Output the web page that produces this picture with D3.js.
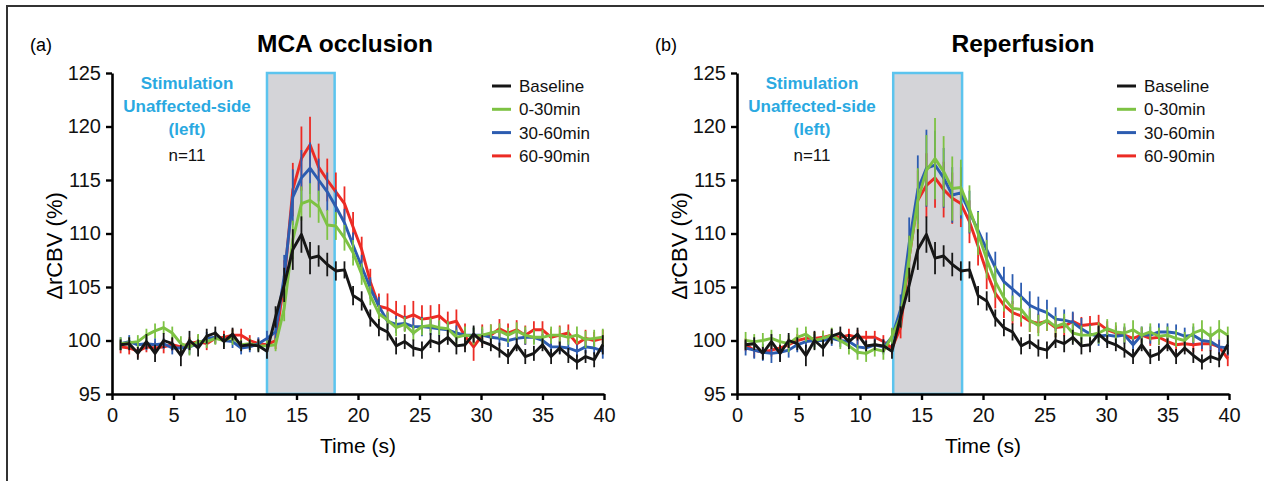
<!DOCTYPE html>
<html>
<head>
<meta charset="utf-8">
<script src="https://cdn.jsdelivr.net/npm/d3@7"></script>
<style>
body { margin: 0; background: #fff; }
svg text { font-family: "Liberation Sans", Arial, sans-serif; }
</style>
</head>
<body>
<svg id="chart" width="1264" height="481"></svg>
<script>
// sample times (s)
var times = [0.7,1.4,2.1,2.8,3.5,4.2,4.9,5.6,6.3,7.0,7.7,8.4,9.1,9.8,10.5,11.2,11.9,12.6,13.3,14.0,
  14.7,15.4,16.1,16.8,17.5,18.2,18.9,19.6,20.3,21.0,21.7,22.4,23.1,23.8,24.5,25.2,25.9,26.6,27.3,28.0,
  28.7,29.4,30.1,30.8,31.5,32.2,32.9,33.6,34.3,35.0,35.7,36.4,37.1,37.8,38.5,39.2,39.9];

// Baseline (same curve in both panels)
var baseline = [99.6,99.7,98.8,99.9,98.8,100.0,99.7,98.6,100.0,99.3,100.4,100.7,99.9,100.6,99.5,99.6,99.5,99.0,
  102.2,105.2,108.5,109.9,107.7,107.9,107.1,106.5,106.6,104.2,
  103.7,102.1,101.2,100.8,99.5,99.9,99.3,99.1,100.0,99.7,100.3,99.5,99.6,100.6,99.9,99.6,99.1,98.5,99.6,98.5,
  98.8,99.6,98.5,99.3,98.6,98.0,98.5,98.2,99.6];
var baselineErr = [0.5,0.6,0.6,0.7,0.8,0.7,0.6,1.0,0.9,0.8,0.7,0.6,0.7,0.6,0.5,0.5,0.6,0.7,
  1.0,1.6,1.9,1.7,1.5,1.0,1.1,0.9,0.8,0.9,0.9,0.8,
  0.8,0.8,0.8,0.7,0.8,0.8,0.7,0.8,0.7,0.8,0.7,0.8,0.6,0.6,0.7,0.7,0.6,0.7,0.7,0.6,0.7,0.6,0.7,0.7,0.6,0.7,0.9];

// (a) MCA occlusion
var occ0to30 = [99.7,99.8,99.9,100.5,100.9,101.2,100.7,99.7,99.4,99.9,99.9,100.2,100.0,100.3,99.6,99.7,99.5,99.5,99.6,
  103.0,109.4,112.8,113.1,112.5,110.8,110.7,109.6,108.2,106.2,104.2,102.5,
  101.9,101.2,101.5,100.7,101.3,101.4,101.2,101.1,100.3,100.5,100.4,100.5,100.7,100.9,100.5,100.9,100.5,100.3,
  100.3,100.5,100.5,100.3,100.5,100.1,100.2,100.3];
var occ0to30Err = [0.6,0.5,0.6,0.6,0.7,0.6,0.6,0.7,0.8,0.7,0.6,0.6,0.6,0.7,0.5,0.5,0.5,0.5,
  0.6,1.2,1.8,1.6,1.6,1.5,1.4,1.3,1.2,1.2,1.0,0.9,
  0.8,0.8,0.8,0.7,0.7,0.8,0.7,0.7,0.7,0.7,0.8,0.8,0.8,0.8,0.7,0.7,0.8,0.8,0.7,0.7,0.8,0.8,0.7,0.8,0.8,0.8,0.8];
var occ30to60 = [99.7,99.9,99.6,99.7,99.6,99.7,99.3,99.3,99.4,99.7,100.2,100.3,100.0,99.9,99.3,99.4,99.7,100.2,100.8,
  106.0,113.4,115.2,116.1,115.0,113.9,112.5,111.0,108.9,106.9,104.9,103.2,
  101.8,101.5,101.6,101.3,101.3,101.2,101.1,101.0,100.7,100.5,100.5,100.5,100.3,100.2,100.0,100.2,100.3,100.3,
  100.0,99.4,99.4,99.3,99.0,99.4,99.3,99.0];
var occ30to60Err = [0.6,0.6,0.5,0.6,0.6,0.5,0.6,0.6,0.7,0.6,0.6,0.6,0.5,0.6,0.6,0.5,0.6,0.7,
  0.8,2.0,2.6,2.6,2.4,2.0,1.8,1.6,1.3,1.2,1.1,1.0,
  0.9,0.8,0.8,0.7,0.8,0.9,0.7,0.7,0.7,0.7,0.6,0.7,0.6,0.6,0.7,0.6,0.6,0.7,0.6,0.6,0.6,0.6,0.7,0.6,0.6,0.6,0.7];
var occ60to90 = [99.4,99.3,99.0,99.4,99.3,99.4,99.6,99.4,99.7,99.9,99.7,100.2,100.3,100.5,100.5,100.0,99.7,99.6,100.0,
  105.5,114.1,117.0,118.3,116.2,115.0,113.9,112.8,110.6,108.5,105.5,103.2,
  103.0,102.5,102.1,102.4,102.0,102.1,102.3,101.6,101.8,100.4,99.4,100.5,100.5,101.1,100.7,101.0,100.5,101.0,
  101.0,100.3,100.5,100.7,99.7,100.2,100.0,100.2];
var occ60to90Err = [0.6,0.6,0.6,0.5,0.6,0.6,0.6,0.5,0.6,0.6,0.6,0.5,0.6,0.6,0.6,0.5,0.5,0.6,
  0.8,2.0,2.5,3.0,2.6,2.2,2.0,1.8,1.6,1.4,1.2,1.2,
  1.2,1.4,1.2,1.2,1.3,1.3,1.2,1.1,1.1,1.1,1.2,1.3,1.0,1.0,0.9,0.9,0.9,0.9,0.8,0.8,0.8,0.9,0.8,0.8,0.8,0.8,0.8];

// (b) Reperfusion
var rep0to30 = [100.0,99.9,100.0,100.2,99.9,99.7,100.3,100.6,100.0,100.2,100.5,100.0,99.5,98.9,98.8,99.2,99.0,100.4,102.2,
  107.8,113.1,115.9,117.0,115.8,114.2,114.3,112.3,110.0,107.6,105.5,104.0,
  103.0,102.9,101.9,101.4,101.9,101.3,101.6,100.7,100.5,100.5,100.7,101.1,100.8,100.7,101.0,100.5,100.8,100.4,
  100.5,100.2,100.0,100.7,101.0,100.4,101.0,100.5];
var rep0to30Err = [0.8,0.7,0.7,0.8,0.7,0.8,0.9,0.7,0.8,0.7,0.7,0.8,0.8,0.7,0.8,0.7,0.8,0.8,
  1.0,2.0,3.0,3.3,3.8,3.3,3.0,2.6,2.2,2.0,1.8,1.5,
  1.3,1.2,1.2,1.1,1.0,1.0,1.0,0.9,0.9,0.9,0.9,1.0,0.9,0.9,0.9,0.9,0.8,0.8,0.8,0.8,0.8,0.8,0.9,0.9,0.9,0.9,0.8];
var rep30to60 = [99.3,99.1,98.9,98.8,98.9,99.1,99.6,99.9,100.0,100.0,100.2,100.0,99.9,99.4,99.3,99.6,99.4,100.3,102.9,
  109.1,114.1,116.1,116.4,115.2,113.6,113.8,112.0,110.3,108.5,106.8,105.5,
  104.8,104.1,103.3,102.9,102.6,102.0,101.9,101.7,101.1,100.6,100.4,100.5,100.4,100.5,99.6,100.5,100.5,100.8,
  100.8,100.7,100.4,100.5,100.0,99.9,99.4,99.3];
var rep30to60Err = [0.7,0.8,0.8,0.9,0.8,0.7,0.7,0.6,0.6,0.6,0.7,0.6,0.6,0.7,0.7,0.6,0.7,0.8,
  1.4,2.4,3.2,3.6,3.2,2.8,2.6,2.4,2.0,1.8,1.6,1.5,
  1.4,1.4,1.3,1.3,1.2,1.2,1.1,1.0,1.0,1.0,0.9,0.9,0.9,0.8,0.8,0.8,0.8,0.8,0.8,0.8,0.8,0.8,0.8,0.8,0.8,0.7,0.7];
var rep60to90 = [99.6,99.1,98.9,99.1,99.3,99.6,100.0,100.2,100.2,100.3,100.5,100.3,100.5,100.3,100.3,100.3,99.9,99.3,101.2,
  107.8,113.1,114.5,115.2,114.1,113.3,112.8,111.1,108.8,106.4,104.4,103.3,
  102.6,102.3,101.8,101.6,101.8,101.2,101.3,101.8,101.4,101.5,101.6,101.0,100.7,100.5,100.2,100.5,100.2,100.3,
  99.9,99.6,99.7,99.6,99.7,99.7,99.4,98.3];
var rep60to90Err = [0.6,0.7,0.6,0.6,0.5,0.6,0.6,0.7,0.6,0.6,0.5,0.6,0.6,0.7,0.6,0.6,0.6,0.6,
  1.0,2.0,2.8,3.0,2.8,2.6,2.4,2.2,2.0,1.8,1.6,1.4,
  1.2,1.1,1.0,1.0,0.9,0.9,0.9,0.9,0.8,0.8,0.8,0.8,0.8,0.7,0.7,0.7,0.7,0.7,0.7,0.7,0.7,0.7,0.7,0.7,0.7,0.7,0.7];

var seriesNames = ["Baseline", "0-30min", "30-60min", "60-90min"];
var seriesColors = ["#161616", "#7dc243", "#2c5cb0", "#ec2b24"];
var xTicks = [0, 5, 10, 15, 20, 25, 30, 35, 40];
var yTicks = [95, 100, 105, 110, 115, 120, 125];
var stimOcclusion = [12.6, 18.1];
var stimReperfusion = [12.7, 18.3];

var svg = d3.select("#chart");

// frame around the figure
svg.append("line").attr("x1", 6).attr("x2", 1264).attr("y1", 6).attr("y2", 6)
   .attr("stroke", "#333").attr("stroke-width", 2);
svg.append("line").attr("x1", 7).attr("x2", 7).attr("y1", 5).attr("y2", 481)
   .attr("stroke", "#333").attr("stroke-width", 2);

var x = d3.scaleLinear().domain([0, 40]).range([112, 604]);
var y = d3.scaleLinear().domain([95, 125]).range([394, 73]);

var line = d3.line()
  .x(function(d) { return x(d.t); })
  .y(function(d) { return y(d.v); });

var drawPanel = function(offset, letter, title, titleX, stim, series) {
  var g = svg.append("g").attr("transform", "translate(" + offset + ",0)");

  g.append("text").attr("x", 30).attr("y", 51).attr("font-size", 18).text(letter);
  g.append("text").attr("x", titleX).attr("y", 52).attr("text-anchor", "middle")
   .attr("font-size", 24.5).attr("font-weight", "bold").text(title);

  // stimulation window
  g.append("rect")
   .attr("x", x(stim[0])).attr("y", y(125))
   .attr("width", x(stim[1]) - x(stim[0])).attr("height", y(95) - y(125))
   .attr("fill", "#d4d4d8").attr("stroke", "#5cc4ee").attr("stroke-width", 2.5);

  // draw order: red, blue, green, black on top
  var order = [3, 2, 1, 0];
  order.forEach(function(i) {
    var s = series[i];
    var pts = times.map(function(t, k) { return { t: t, v: s.values[k], e: s.err[k] }; });
    g.append("g").selectAll("line")
     .data(pts)
     .enter()
     .append("line")
     .attr("x1", function(d) { return x(d.t); })
     .attr("x2", function(d) { return x(d.t); })
     .attr("y1", function(d) { return y(d.v - d.e); })
     .attr("y2", function(d) { return y(d.v + d.e); })
     .attr("stroke", seriesColors[i])
     .attr("stroke-width", 1.8);
    g.append("path")
     .datum(pts)
     .attr("d", line)
     .attr("fill", "none")
     .attr("stroke", seriesColors[i])
     .attr("stroke-width", 2.9)
     .attr("stroke-linejoin", "round");
  });

  var yAxis = g.append("g").attr("transform", "translate(112,0)")
    .call(d3.axisLeft(y).tickValues(yTicks).tickSize(6).tickSizeOuter(0).tickPadding(5));
  var xAxis = g.append("g").attr("transform", "translate(0,394)")
    .call(d3.axisBottom(x).tickValues(xTicks).tickSize(6).tickSizeOuter(0).tickPadding(8));
  [yAxis, xAxis].forEach(function(a) {
    a.select(".domain").attr("stroke", "#000").attr("stroke-width", 2.6);
    a.selectAll(".tick line").attr("stroke", "#000").attr("stroke-width", 2.4);
    a.selectAll(".tick text").attr("font-size", 20).attr("fill", "#111")
     .attr("font-family", "'Liberation Sans', Arial, sans-serif");
  });

  g.append("text").attr("transform", "translate(54,246) rotate(-90)")
   .attr("text-anchor", "middle").attr("dy", "0.35em").attr("font-size", 22)
   .text("\u0394rCBV (%)");
  g.append("text").attr("x", 358).attr("y", 453).attr("text-anchor", "middle")
   .attr("font-size", 21).text("Time (s)");

  // stimulation note
  var note = ["Stimulation", "Unaffected-side", "(left)"];
  note.forEach(function(s, i) {
    g.append("text").attr("x", 187).attr("y", 89 + i * 23).attr("text-anchor", "middle")
     .attr("font-size", 17).attr("font-weight", "bold").attr("fill", "#2aa9e1").text(s);
  });
  g.append("text").attr("x", 187).attr("y", 161).attr("text-anchor", "middle")
   .attr("font-size", 17).attr("fill", "#111").text("n=11");

  // legend
  seriesNames.forEach(function(name, i) {
    var ly = 86 + i * 23.3;
    g.append("line").attr("x1", 492).attr("x2", 511).attr("y1", ly).attr("y2", ly)
     .attr("stroke", seriesColors[i]).attr("stroke-width", 3);
    g.append("text").attr("x", 519).attr("y", ly).attr("dy", "0.35em")
     .attr("font-size", 17).attr("fill", "#111").text(name);
  });
};

drawPanel(0, "(a)", "MCA occlusion", 345, stimOcclusion, [
  { values: baseline, err: baselineErr },
  { values: occ0to30, err: occ0to30Err },
  { values: occ30to60, err: occ30to60Err },
  { values: occ60to90, err: occ60to90Err }
]);
drawPanel(625, "(b)", "Reperfusion", 398, stimReperfusion, [
  { values: baseline, err: baselineErr },
  { values: rep0to30, err: rep0to30Err },
  { values: rep30to60, err: rep30to60Err },
  { values: rep60to90, err: rep60to90Err }
]);
</script>
</body>
</html>
